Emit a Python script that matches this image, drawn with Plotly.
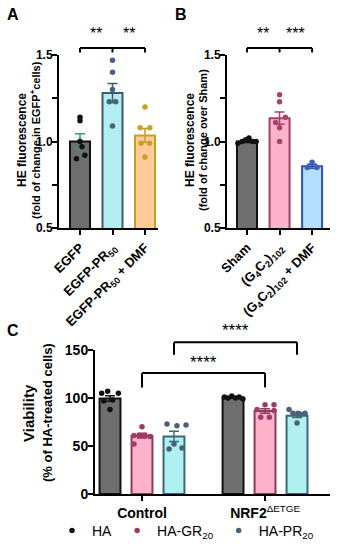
import plotly.graph_objects as go

# ---------------- data ----------------
# Panel A
a_labels = ["EGFP", "EGFP-PR<sub>50</sub>", "EGFP-PR<sub>50</sub> + DMF"]
a_means = [1.00, 1.28, 1.035]
a_sem = [0.045, 0.055, 0.04]
a_pts = [
    [1.14, 1.12, 1.00, 0.97, 0.92, 0.90],
    [1.47, 1.40, 1.30, 1.23, 1.23, 1.09],
    [1.20, 1.08, 1.08, 0.99, 0.99, 0.91],
]
a_stars = ["**", "**"]

# Panel B
b_labels = ["Sham", "(G<sub>4</sub>C<sub>2</sub>)<sub>102</sub>",
            "(G<sub>4</sub>C<sub>2</sub>)<sub>102</sub> + DMF"]
b_means = [1.00, 1.135, 0.857]
b_sem = [0.006, 0.035, 0.012]
b_pts = [
    [0.99, 1.00, 1.01, 1.02, 1.00, 1.00],
    [1.27, 1.23, 1.14, 1.11, 1.08, 1.00],
    [0.88, 0.85, 0.85],
]
b_stars = ["**", "***"]

# shared y ticks for A and B
ab_major = [0.5, 1.0, 1.5]
ab_major_text = ["0.5", "1.0", "1.5"]
ab_minor = [0.75, 1.25]

# Panel C
c_groups = ["Control", "NRF2<sup>ΔETGE</sup>"]
c_series = ["HA", "HA-GR<sub>20</sub>", "HA-PR<sub>20</sub>"]
c_means = [[99.5, 100.5], [60.8, 86.5], [60.0, 81.5]]
c_sem = [[2.8, 0.5], [2.4, 2.3], [5.3, 1.9]]
c_pts = [
    [[105, 107, 105, 97, 98, 88], [101, 100, 102, 100, 101, 99]],
    [[70, 61, 61, 61, 60, 52], [93, 93, 88, 87, 80, 80]],
    [[73, 71, 72, 47, 48, 52], [88, 84, 84, 84, 74, 83]],
]
c_ticks = [0, 50, 100, 150]
c_stars = ["****", "****"]

# ---------------- styles ----------------
FONT = "Liberation Sans, Arial, sans-serif"
a_fill = ["#6f6f6f", "#b0eef0", "#ffcc99"]
a_edge = ["#111111", "#3e5a70", "#c4a024"]
a_dot = ["#111111", "#4a5f80", "#c8a02a"]
a_err = ["#2a9d80", "#3e5a70", "#c4a024"]
b_fill = ["#6f6f6f", "#ffb3cb", "#b3e0ff"]
b_edge = ["#111111", "#a0406e", "#3050c0"]
b_dot = ["#111111", "#a3466f", "#3a62b8"]
c_fill = ["#6f6f6f", "#ffb3cb", "#b0f0f0"]
c_edge = ["#111111", "#8e3a5e", "#3a6878"]
c_dot = ["#111111", "#9b3d64", "#4a6278"]

a_jit = [[0, 0, 0, 0.06, 0.15, -0.11], [0, 0, 0, -0.1, 0.1, 0],
         [0, -0.15, 0.15, -0.12, 0.14, 0]]
b_jit = [[-0.28, -0.15, -0.04, 0.06, 0.17, 0.28], [0, 0, 0.18, -0.12, 0, 0],
         [0, -0.15, 0.15]]
c_jit = [
    [[-0.068, -0.019, 0.068, -0.051, 0.022, 0.0], [-0.07, -0.04, -0.01, 0.02, 0.05, 0.08]],
    [[0, -0.065, -0.024, 0.024, 0.065, -0.065], [0, 0.073, -0.065, 0.073, -0.035, 0.035]],
    [[-0.057, 0.024, 0.098, -0.04, 0.065, 0.0], [-0.065, -0.033, 0.008, 0.065, 0, 0.03]],
]
C_SLOT = 0.26
AB_RANGE = [0.5, 1.5]
C_RANGE = [0, 150]

fig = go.Figure()


def dom(v, rng):
    """data value -> fraction of the y-axis domain"""
    return (v - rng[0]) / (rng[1] - rng[0])


def panel(labels, means, sem, pts, jit, fill, edge, dot, err, xa, ya):
    for i in range(len(labels)):
        fig.add_trace(go.Bar(
            x=[i], y=[means[i]], width=0.615, xaxis=xa, yaxis=ya,
            marker=dict(color=fill[i], line=dict(color=edge[i], width=2)),
            error_y=dict(type="data", array=[sem[i]], color=err[i], thickness=1.5, width=5),
            showlegend=False))
        fig.add_trace(go.Scatter(
            x=[i + j for j in jit[i]], y=pts[i], mode="markers", xaxis=xa, yaxis=ya,
            marker=dict(color=dot[i], size=5.5), cliponaxis=False, showlegend=False))


panel(a_labels, a_means, a_sem, a_pts, a_jit, a_fill, a_edge, a_dot, a_err, "x", "y")
panel(b_labels, b_means, b_sem, b_pts, b_jit, b_fill, b_edge, b_dot, b_edge, "x2", "y2")

for s in range(3):
    xs = [g + (s - 1) * C_SLOT for g in range(2)]
    fig.add_trace(go.Bar(
        x=xs, y=c_means[s], width=0.17, xaxis="x3", yaxis="y3",
        marker=dict(color=c_fill[s], line=dict(color=c_edge[s], width=2)),
        error_y=dict(type="data", array=c_sem[s], color=c_edge[s], thickness=1.5, width=5),
        showlegend=False))
    px, py = [], []
    for g in range(2):
        px += [xs[g] + j for j in c_jit[s][g]]
        py += c_pts[s][g]
    fig.add_trace(go.Scatter(
        x=px, y=py, mode="markers", xaxis="x3", yaxis="y3", name=c_series[s],
        marker=dict(color=c_dot[s], size=5.5), cliponaxis=False, showlegend=True))

LINE = dict(color="black", width=2)


def bracket(xref, yref, rng, xs, ytop, ybot):
    yd = yref + " domain"
    fig.add_shape(type="line", xref=xref, yref=yd, x0=xs[0], x1=xs[-1],
                  y0=dom(ytop, rng), y1=dom(ytop, rng), line=LINE)
    for x in xs:
        fig.add_shape(type="line", xref=xref, yref=yd, x0=x, x1=x,
                      y0=dom(ytop, rng), y1=dom(ybot, rng), line=LINE)


def star(xref, yref, rng, x, y, text, size):
    fig.add_annotation(x=x, y=dom(y, rng), xref=xref, yref=yref + " domain", text=text,
                       showarrow=False, xanchor="center", yanchor="middle",
                       font=dict(size=size, family=FONT, color="black"))


for xa, ya, stars in [("x", "y", a_stars), ("x2", "y2", b_stars)]:
    bracket(xa, ya, AB_RANGE, [0, 1, 2], 1.54, 1.515)
    for k, st in enumerate(stars):
        star(xa, ya, AB_RANGE, k + 0.5, 1.625, st, 16)

c_br = [((0, 1), 126, 111, 137), ((C_SLOT, 1 + C_SLOT), 158, 145, 170)]
for k, (xs, yt, yb, ys) in enumerate(c_br):
    bracket("x3", "y3", C_RANGE, list(xs), yt, yb)
    star("x3", "y3", C_RANGE, (xs[0] + xs[1]) / 2, ys, c_stars[k], 17)

axis_common = dict(showline=True, linewidth=2, linecolor="black", ticks="outside",
                   ticklen=5, tickwidth=2, tickcolor="black", showgrid=False,
                   zeroline=False, fixedrange=True, automargin=False)
yt_ab = dict(tickvals=ab_major, ticktext=["<b>" + t + "</b>" for t in ab_major_text],
             minor=dict(tickvals=ab_minor, ticks="outside", ticklen=5, tickwidth=2,
                        tickcolor="black", showgrid=False),
             range=AB_RANGE, ticklabelstandoff=-3,
             tickfont=dict(size=12, family=FONT, color="black"))
xt_font = dict(size=13, family=FONT, color="black")

fig.update_layout(
    width=340, height=550, margin=dict(l=0, r=0, t=0, b=0, autoexpand=False),
    paper_bgcolor="white", plot_bgcolor="white", barmode="overlay",
    font=dict(family=FONT, color="black"),
    xaxis=dict(axis_common, domain=[59 / 340, 158 / 340], range=[-0.646, 2.4], anchor="y",
               tickvals=[0, 1, 2], ticktext=["<b>" + t + "</b>" for t in a_labels],
               tickangle=-45, tickfont=xt_font),
    yaxis=dict(axis_common, domain=[1 - 228 / 550, 1 - 55 / 550], anchor="x", **yt_ab),
    xaxis2=dict(axis_common, domain=[227 / 340, 330 / 340], range=[-0.615, 2.55], anchor="y2",
                tickvals=[0, 1, 2], ticktext=["<b>" + t + "</b>" for t in b_labels],
                tickangle=-45, tickfont=xt_font),
    yaxis2=dict(axis_common, domain=[1 - 228 / 550, 1 - 55 / 550], anchor="x2", **yt_ab),
    xaxis3=dict(axis_common, domain=[95 / 340, 330 / 340], range=[-0.382, 1.528], anchor="y3",
                tickvals=[0, 1], ticktext=["<b>Control</b>", "<b>NRF2</b><sup>ΔETGE</sup>"],
                tickfont=dict(size=14, family=FONT, color="black")),
    yaxis3=dict(axis_common, domain=[1 - 494 / 550, 1 - 350 / 550], anchor="x3",
                range=C_RANGE, tickvals=c_ticks, ticklabelstandoff=-3,
                ticktext=["<b>%d</b>" % v for v in c_ticks],
                tickfont=dict(size=14, family=FONT, color="black")),
    legend=dict(orientation="h", x=52 / 340, xanchor="left", y=1 - 531 / 550, yanchor="middle",
                font=dict(size=14, family=FONT, color="black"), bgcolor="rgba(0,0,0,0)",
                itemclick=False, itemdoubleclick=False),
)


def ann(x, y, text, size, angle=0):
    fig.add_annotation(x=x / 340, y=1 - y / 550, xref="paper", yref="paper", text=text,
                       showarrow=False, textangle=angle, xanchor="center", yanchor="middle",
                       font=dict(size=size, family=FONT, color="black"))


ann(13, 15, "<b>A</b>", 16)
ann(181, 14, "<b>B</b>", 16)
ann(13, 330, "<b>C</b>", 16)
ann(22, 140, "<b>HE fluorescence</b>", 12, -90)
ann(35, 140, "<b>(fold of change in EGFP<sup>+</sup>cells)</b>", 11, -90)
ann(190, 140, "<b>HE fluorescence</b>", 12, -90)
ann(203, 140, "<b>(fold of change over Sham)</b>", 11, -90)
ann(28, 413, "<b>Viability</b>", 15, -90)
ann(47, 413, "<b>(% of HA-treated cells)</b>", 13, -90)

fig.write_html("out.html", config={"displayModeBar": False},
               post_script="document.body.style.margin='0';document.body.style.overflow='hidden';")
